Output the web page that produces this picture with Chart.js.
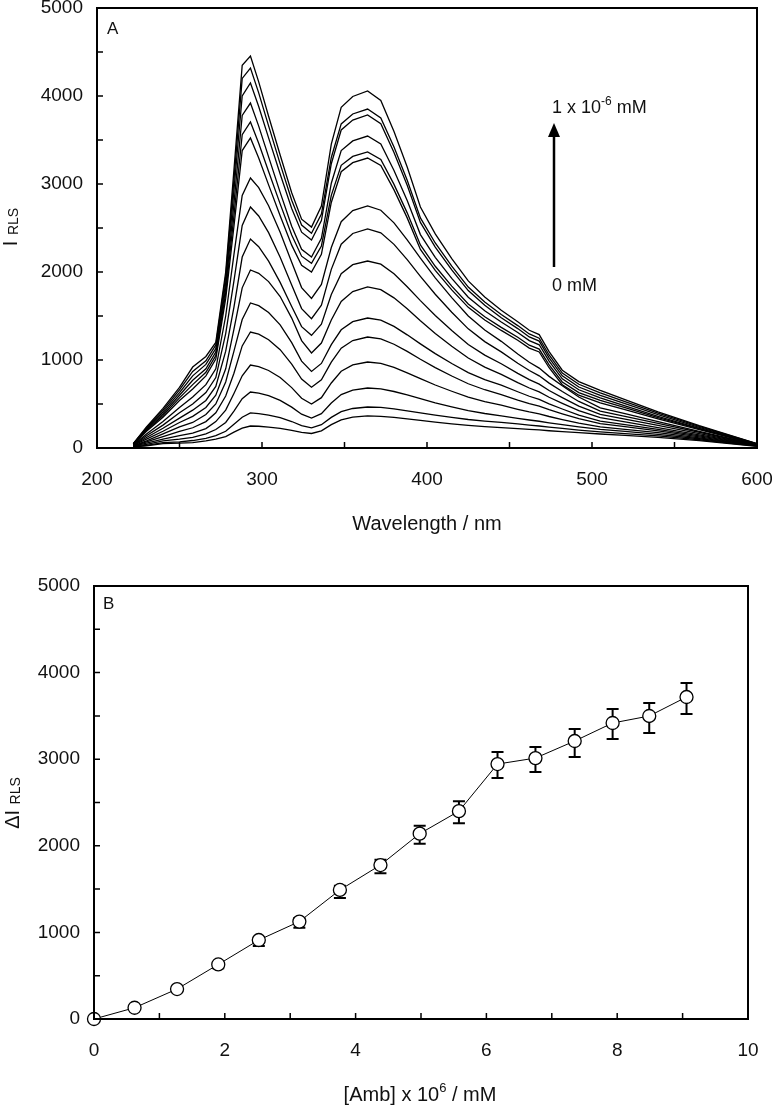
<!DOCTYPE html>
<html>
<head>
<meta charset="utf-8">
<script src="https://cdn.jsdelivr.net/npm/chart.js@4.4.1/dist/chart.umd.min.js"></script>
<style>
  body { margin: 0; background: #fff; }
  #wrap { position: relative; width: 772px; height: 1107px; }
  canvas { position: absolute; left: 0; }
  #spectra { top: 0; }
  #calib { top: 560px; }
</style>
</head>
<body>
<div id="wrap">
  <canvas id="spectra" width="772" height="560"></canvas>
  <canvas id="calib" width="772" height="547"></canvas>
</div>
<script>
// ---- panel A: RLS spectra ----
const wavelengths = [222, 230, 240, 250, 258, 266, 272, 278, 283, 288, 293, 298, 304, 311, 318, 324, 330, 336, 342, 348, 355, 364,
  372, 380, 388, 396, 405, 415, 425, 435, 445, 455, 462, 468, 474, 482, 492, 505, 520, 540, 565, 600];

const spec00 = [50, 240, 450, 690, 920, 1040, 1200, 2000, 3160, 4350, 4455, 4160, 3770, 3330, 2900, 2600, 2510, 2750, 3454, 3871, 3995, 4057, 3950, 3597, 3193, 2738, 2433, 2152, 1899, 1717, 1566, 1435, 1338, 1289, 1095, 884, 755, 655, 550, 410, 253, 50];
const spec01 = [48, 230, 430, 660, 870, 990, 1170, 1950, 3050, 4200, 4318, 4036, 3661, 3229, 2816, 2534, 2440, 2659, 3301, 3683, 3796, 3852, 3751, 3421, 3042, 2615, 2330, 2066, 1829, 1659, 1517, 1391, 1296, 1248, 1057, 851, 724, 627, 528, 396, 245, 48];
const spec02 = [45, 220, 410, 630, 820, 950, 1130, 1880, 2930, 4000, 4148, 3880, 3524, 3113, 2721, 2453, 2364, 2584, 3230, 3614, 3727, 3784, 3685, 3358, 2985, 2564, 2283, 2023, 1789, 1621, 1481, 1357, 1262, 1215, 1025, 820, 693, 598, 504, 378, 234, 46];
const spec03 = [42, 210, 390, 600, 770, 900, 1090, 1820, 2780, 3780, 3920, 3658, 3308, 2905, 2520, 2258, 2170, 2383, 3009, 3380, 3490, 3545, 3454, 3154, 2812, 2425, 2167, 1928, 1714, 1559, 1431, 1313, 1220, 1173, 987, 786, 662, 570, 480, 360, 223, 44];
const spec04 = [40, 200, 370, 570, 720, 860, 1050, 1760, 2640, 3560, 3705, 3464, 3143, 2774, 2421, 2180, 2100, 2296, 2871, 3212, 3313, 3364, 3278, 2996, 2672, 2308, 2065, 1840, 1637, 1492, 1371, 1258, 1168, 1124, 944, 750, 630, 542, 458, 346, 216, 42];
const spec05 = [38, 190, 350, 540, 670, 820, 1010, 1700, 2520, 3380, 3523, 3295, 2990, 2640, 2305, 2076, 2000, 2201, 2790, 3140, 3243, 3295, 3211, 2933, 2615, 2257, 2018, 1797, 1598, 1455, 1336, 1224, 1135, 1091, 912, 719, 600, 514, 436, 332, 208, 40];
const spec06 = [35, 160, 300, 460, 580, 720, 900, 1500, 2200, 2870, 3068, 2959, 2753, 2452, 2110, 1823, 1700, 1858, 2278, 2572, 2698, 2750, 2702, 2558, 2366, 2157, 1933, 1709, 1500, 1340, 1212, 1068, 974, 908, 814, 707, 580, 457, 390, 300, 190, 38];
const spec07 = [32, 140, 260, 400, 500, 630, 800, 1300, 1900, 2530, 2739, 2637, 2447, 2168, 1851, 1584, 1470, 1623, 2030, 2316, 2438, 2489, 2445, 2314, 2140, 1951, 1747, 1543, 1354, 1209, 1092, 963, 880, 820, 737, 642, 529, 420, 360, 280, 179, 36];
const spec08 = [30, 120, 225, 340, 430, 540, 700, 1100, 1600, 2170, 2375, 2287, 2123, 1882, 1609, 1379, 1280, 1407, 1745, 1981, 2083, 2125, 2089, 1979, 1833, 1675, 1505, 1335, 1177, 1055, 958, 848, 777, 726, 654, 573, 476, 382, 328, 256, 164, 34];
const spec09 = [28, 100, 190, 290, 360, 460, 600, 900, 1350, 1820, 2023, 1985, 1891, 1721, 1476, 1221, 1080, 1193, 1455, 1665, 1778, 1830, 1799, 1706, 1582, 1447, 1302, 1157, 1023, 919, 836, 743, 682, 638, 577, 508, 425, 344, 296, 232, 150, 32];
const spec10 = [25, 80, 160, 240, 290, 380, 500, 750, 1100, 1460, 1648, 1617, 1539, 1399, 1197, 987, 870, 961, 1174, 1343, 1435, 1477, 1453, 1382, 1286, 1183, 1072, 960, 857, 777, 714, 639, 588, 552, 501, 443, 374, 306, 266, 212, 138, 30];
const spec11 = [22, 70, 130, 190, 230, 300, 400, 590, 850, 1160, 1318, 1293, 1230, 1117, 954, 784, 690, 776, 976, 1135, 1221, 1261, 1241, 1179, 1098, 1009, 914, 818, 730, 662, 607, 545, 505, 476, 435, 389, 333, 278, 242, 194, 127, 28];
const spec12 = [20, 55, 100, 140, 170, 220, 300, 430, 620, 820, 943, 925, 881, 801, 686, 566, 500, 572, 739, 872, 944, 977, 962, 916, 854, 788, 716, 645, 578, 527, 486, 440, 410, 388, 358, 323, 282, 240, 212, 174, 116, 26];
const spec13 = [18, 40, 80, 100, 120, 160, 210, 290, 420, 560, 636, 624, 595, 541, 464, 384, 340, 391, 511, 607, 658, 682, 672, 642, 603, 560, 514, 468, 425, 392, 365, 336, 318, 304, 286, 265, 240, 212, 188, 156, 105, 24];
const spec14 = [15, 30, 60, 70, 85, 110, 140, 190, 270, 350, 398, 391, 374, 344, 301, 255, 230, 265, 348, 414, 449, 466, 461, 444, 422, 399, 373, 348, 324, 306, 291, 273, 260, 250, 237, 222, 204, 183, 164, 138, 94, 22];
const spec15 = [12, 25, 50, 55, 60, 80, 100, 130, 180, 225, 250, 247, 238, 223, 201, 178, 165, 195, 265, 320, 350, 364, 360, 348, 331, 313, 294, 275, 257, 243, 232, 220, 211, 205, 196, 186, 174, 159, 143, 121, 83, 20];

const spectraXLabels = [200, 300, 400, 500, 600];
const spectraYLabels = [0, 1000, 2000, 3000, 4000, 5000];

// ---- panel B: calibration, delta I vs concentration ----
const ambConc = [0, 0.62, 1.27, 1.9, 2.52, 3.14, 3.76, 4.38, 4.98, 5.58, 6.17, 6.75, 7.35, 7.93, 8.49, 9.06];
const deltaI = [0, 130, 346, 630, 912, 1125, 1490, 1778, 2140, 2400, 2944, 3013, 3210, 3418, 3499, 3718];
const errUp = [0, 0, 0, 0, 30, 40, 50, 60, 92, 115, 139, 127, 139, 162, 150, 162];
const errDown = [0, 15, 25, 45, 70, 70, 92, 95, 115, 139, 161, 162, 185, 185, 196, 196];

const calibXLabels = [0, 2, 4, 6, 8, 10];
const calibYLabels = [0, 1000, 2000, 3000, 4000, 5000];

const FONT = "'Liberation Sans', Arial, sans-serif";

// draws text made of runs of different size / baseline shift
function drawRich(ctx, parts, x, y, align, rotate) {
  ctx.save();
  ctx.translate(x, y);
  if (rotate) ctx.rotate(-Math.PI / 2);
  let total = 0;
  parts.forEach(p => {
    ctx.font = p.size + 'px ' + FONT;
    p.w = ctx.measureText(p.t).width;
    total += p.w;
  });
  let cx = align === 'center' ? -total / 2 : 0;
  ctx.fillStyle = '#111';
  ctx.textAlign = 'left';
  ctx.textBaseline = 'alphabetic';
  parts.forEach(p => {
    ctx.font = p.size + 'px ' + FONT;
    ctx.fillText(p.t, cx, p.dy || 0);
    cx += p.w;
  });
  ctx.restore();
}

// box round the plot area + inward tick marks, then whatever extra text
function framePlugin(extra) {
  return {
    id: 'frame',
    afterDraw(chart) {
      const ctx = chart.ctx, a = chart.chartArea;
      const xs = chart.scales.x, ys = chart.scales.y;
      ctx.save();
      ctx.strokeStyle = '#000';
      ctx.lineWidth = 1.5;
      ctx.beginPath();
      xs.ticks.forEach(t => {
        const px = xs.getPixelForValue(t.value);
        ctx.moveTo(px, a.bottom);
        ctx.lineTo(px, a.bottom - 6);
      });
      ys.ticks.forEach(t => {
        const py = ys.getPixelForValue(t.value);
        ctx.moveTo(a.left, py);
        ctx.lineTo(a.left + 6, py);
      });
      ctx.stroke();
      ctx.lineWidth = 2;
      ctx.strokeRect(a.left, a.top, a.right - a.left, a.bottom - a.top);
      ctx.restore();
      extra(chart, ctx);
    }
  };
}

function axisOpts(min, max, step, labels, pad, fit) {
  return {
    type: 'linear', min: min, max: max,
    grid: { display: false, drawTicks: false },
    border: { display: false },
    ticks: {
      stepSize: step, autoSkip: false, maxRotation: 0, padding: pad,
      color: '#111', font: { size: 19, family: FONT },
      callback: v => labels.includes(v) ? String(v) : ''
    },
    afterFit: fit
  };
}

const spectraSets = [spec00, spec01, spec02, spec03, spec04, spec05, spec06, spec07,
  spec08, spec09, spec10, spec11, spec12, spec13, spec14, spec15].map(s => ({
  data: s.map((v, i) => ({ x: wavelengths[i], y: v })),
  borderColor: '#000',
  borderWidth: 1.3,
  pointRadius: 0,
  tension: 0,
  fill: false
}));

new Chart(document.getElementById('spectra'), {
  type: 'line',
  data: { datasets: spectraSets },
  options: {
    responsive: false,
    animation: false,
    layout: { padding: { top: 8, right: 15, left: 0, bottom: 0 } },
    plugins: { legend: { display: false }, tooltip: { enabled: false } },
    scales: {
      x: axisOpts(200, 600, 50, spectraXLabels, 20, s => { s.height = 112; s.paddingLeft = 0; s.paddingRight = 0; }),
      y: axisOpts(0, 5000, 500, spectraYLabels, 14, s => { s.width = 97; s.paddingTop = 0; s.paddingBottom = 0; })
    }
  },
  plugins: [framePlugin((chart, ctx) => {
    drawRich(ctx, [{ t: 'A', size: 17 }], 107, 34);
    drawRich(ctx, [{ t: 'Wavelength / nm', size: 20 }], 427, 530, 'center');
    drawRich(ctx, [{ t: 'I ', size: 20 }, { t: 'RLS', size: 14, dy: 1 }], 17, 227, 'center', true);
    drawRich(ctx, [{ t: '1 x 10', size: 18 }, { t: '-6', size: 12, dy: -8 }, { t: ' mM', size: 18 }], 552, 113);
    drawRich(ctx, [{ t: '0 mM', size: 18 }], 552, 291);
    // concentration arrow
    ctx.save();
    ctx.strokeStyle = '#000';
    ctx.fillStyle = '#000';
    ctx.lineWidth = 2.5;
    ctx.beginPath();
    ctx.moveTo(554, 267);
    ctx.lineTo(554, 134);
    ctx.stroke();
    ctx.beginPath();
    ctx.moveTo(554, 123);
    ctx.lineTo(548, 137);
    ctx.lineTo(560, 137);
    ctx.closePath();
    ctx.fill();
    ctx.restore();
  })]
});

// error bars, drawn under the markers
const errorBars = {
  id: 'errorBars',
  beforeDatasetsDraw(chart) {
    const ctx = chart.ctx, xs = chart.scales.x, ys = chart.scales.y;
    ctx.save();
    ctx.strokeStyle = '#000';
    ctx.lineWidth = 2;
    ambConc.forEach((c, i) => {
      if (!errUp[i] && !errDown[i]) return;
      const px = xs.getPixelForValue(c);
      const top = ys.getPixelForValue(deltaI[i] + errUp[i]);
      const bot = ys.getPixelForValue(deltaI[i] - errDown[i]);
      ctx.beginPath();
      ctx.moveTo(px, top); ctx.lineTo(px, bot);
      ctx.moveTo(px - 6, top); ctx.lineTo(px + 6, top);
      ctx.moveTo(px - 6, bot); ctx.lineTo(px + 6, bot);
      ctx.stroke();
    });
    ctx.restore();
  }
};

new Chart(document.getElementById('calib'), {
  type: 'scatter',
  data: {
    datasets: [{
      data: ambConc.map((c, i) => ({ x: c, y: deltaI[i] })),
      showLine: true,
      borderColor: '#000',
      borderWidth: 1,
      pointRadius: 6.5,
      pointBorderWidth: 1.3,
      pointBackgroundColor: '#fff',
      pointBorderColor: '#000',
      clip: false
    }]
  },
  options: {
    responsive: false,
    animation: false,
    layout: { padding: { top: 26, right: 24, left: 0, bottom: 0 } },
    plugins: { legend: { display: false }, tooltip: { enabled: false } },
    scales: {
      x: axisOpts(0, 10, 1, calibXLabels, 20, s => { s.height = 88; s.paddingLeft = 0; s.paddingRight = 0; }),
      y: axisOpts(0, 5000, 500, calibYLabels, 14, s => { s.width = 94; s.paddingTop = 0; s.paddingBottom = 0; })
    }
  },
  plugins: [errorBars, framePlugin((chart, ctx) => {
    drawRich(ctx, [{ t: 'B', size: 17 }], 103, 49);
    drawRich(ctx, [{ t: '[Amb] x 10', size: 20 }, { t: '6', size: 13, dy: -9 }, { t: ' / mM', size: 20 }], 420, 541, 'center');
    drawRich(ctx, [{ t: '\u0394I ', size: 20 }, { t: 'RLS', size: 14, dy: 1 }], 19, 243, 'center', true);
  })]
});
</script>
</body>
</html>
